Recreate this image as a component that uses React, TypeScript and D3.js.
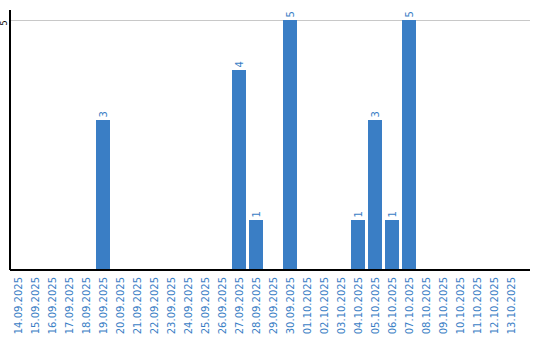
import React from "react";
import * as d3 from "d3";

const dates = [
  "14.09.2025","15.09.2025","16.09.2025","17.09.2025","18.09.2025","19.09.2025","20.09.2025","21.09.2025","22.09.2025","23.09.2025",
  "24.09.2025","25.09.2025","26.09.2025","27.09.2025","28.09.2025","29.09.2025","30.09.2025","01.10.2025","02.10.2025","03.10.2025",
  "04.10.2025","05.10.2025","06.10.2025","07.10.2025","08.10.2025","09.10.2025","10.10.2025","11.10.2025","12.10.2025","13.10.2025",
];
const counts = [0,0,0,0,0,3,0,0,0,0, 0,0,0,4,1,0,5,0,0,0, 1,3,1,5,0,0,0,0,0,0];
const yTicks = [5];

const W = 540, H = 340;
const left = 10, right = 530, top = 10, base = 270;
const blue = "#3a7ec5";
const font = "'DejaVu Sans', Verdana, sans-serif";

export default function App() {
  const x = d3.scaleBand<string>().domain(dates).range([9.5, 519.5]).paddingInner(3 / 17).paddingOuter(1.5 / 17);
  const y = d3.scaleLinear().domain([0, 5]).range([base, 20]);
  return (
    <svg width={W} height={H} style={{ position: "absolute", left: 0, top: 0, background: "#fff" }}>
      {yTicks.map((t) => (
        <g key={t}>
          <line x1={left} x2={right} y1={y(t)} y2={y(t)} stroke="#c8c8c8" strokeWidth={1} shapeRendering="crispEdges" />
          <text transform={`translate(7,${y(t) + 5.5}) rotate(-90)`} textAnchor="start" fontSize={8} fontFamily={font} fill="#000">{t}</text>
        </g>
      ))}
      {dates.map((d, i) =>
        counts[i] > 0 ? (
          <g key={d}>
            <rect x={x(d)} y={y(counts[i])} width={x.bandwidth()} height={base - y(counts[i])} fill={blue} shapeRendering="crispEdges" />
            <text transform={`translate(${(x(d) as number) + x.bandwidth() / 2 + 3.5},${y(counts[i]) - 2.5}) rotate(-90)`} textAnchor="start" fontSize={10} fontFamily={font} fill={blue}>{counts[i]}</text>
          </g>
        ) : null
      )}
      <line x1={left} x2={left} y1={top} y2={base} stroke="#000" strokeWidth={1.5} shapeRendering="crispEdges" />
      <line x1={left} x2={right} y1={base} y2={base} stroke="#000" strokeWidth={1.5} shapeRendering="crispEdges" />
      {dates.map((d) => (
        <text key={d} transform={`translate(${(x(d) as number) + x.bandwidth() / 2 + 4},${base + 7}) rotate(-90)`} textAnchor="end" fontSize={10} fontFamily={font} fill={blue}>{d}</text>
      ))}
    </svg>
  );
}
